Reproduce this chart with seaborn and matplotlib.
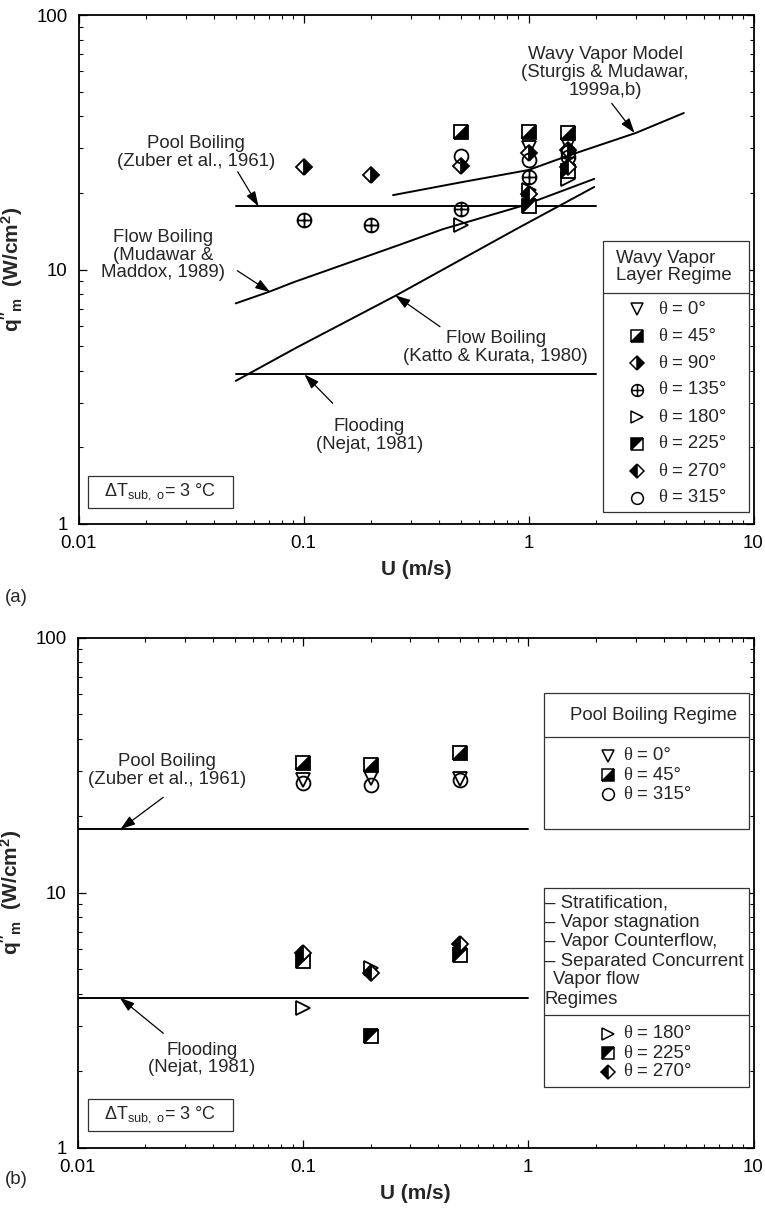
import matplotlib
matplotlib.use("Agg")
import numpy as np
import matplotlib.pyplot as plt
import seaborn as sns
from matplotlib.markers import MarkerStyle
from matplotlib.path import Path
from matplotlib.transforms import Affine2D
from matplotlib.patches import Rectangle
from matplotlib.lines import Line2D
from matplotlib import ticker

sns.set_theme(style="ticks")
plt.rcParams["font.family"] = ["Liberation Sans", "DejaVu Sans"]
plt.rcParams["mathtext.fontset"] = "custom"
plt.rcParams["mathtext.rm"] = "Liberation Sans"
plt.rcParams["mathtext.it"] = "Liberation Sans:italic"
plt.rcParams["mathtext.bf"] = "Liberation Sans:bold"
plt.rcParams["mathtext.sf"] = "Liberation Sans"

# ---------------- data ----------------
x_ticks = [0.01, 0.1, 1, 10]
x_tick_labels = ["0.01", "0.1", "1", "10"]
y_ticks = [1, 10, 100]
y_tick_labels = ["1", "10", "100"]

# panel (a): wavy vapor layer regime
a_u_0 = [1.0, 1.5]
a_q_0 = [29.9, 30.9]
a_u_45 = [0.5, 1.0, 1.5]
a_q_45 = [34.7, 34.6, 34.4]
a_u_90 = [0.1, 0.2, 0.5, 1.0, 1.5]
a_q_90 = [25.2, 23.6, 25.5, 28.6, 29.6]
a_u_135 = [0.1, 0.2, 0.5, 1.0, 1.5]
a_q_135 = [15.6, 14.9, 17.3, 23.0, 27.6]
a_u_180 = [0.5, 1.0, 1.5]
a_q_180 = [15.0, 20.6, 22.6]
a_u_225 = [1.0, 1.5]
a_q_225 = [17.7, 24.3]
a_u_270 = [1.0, 1.5]
a_q_270 = [19.8, 25.2]
a_u_315 = [0.5, 1.0, 1.5]
a_q_315 = [28.0, 27.0, 28.9]

# correlations, panel (a)
a_pool_u = [0.05, 2.0]
a_pool_q = [17.7, 17.7]
a_flood_u = [0.05, 2.0]
a_flood_q = [3.87, 3.87]
mm_u = [0.05, 0.071, 0.09, 0.267, 0.416, 0.94, 1.96]
mm_q = [7.36, 8.2, 8.9, 12.5, 14.4, 17.8, 22.7]
kk_u = [0.05, 0.093, 0.258, 0.88, 1.96]
kk_q = [3.65, 4.93, 7.91, 14.4, 21.1]
wavy_u = [0.25, 0.5, 1.0, 1.5, 3.0, 4.9]
wavy_q = [19.6, 22.0, 24.6, 28.0, 34.4, 41.2]

# panel (b)
b_u_0 = [0.1, 0.2, 0.5]
b_q_0 = [27.7, 28.0, 27.9]
b_u_45 = [0.1, 0.2, 0.5]
b_q_45 = [32.1, 31.5, 35.1]
b_u_315 = [0.1, 0.2, 0.5]
b_q_315 = [27.0, 26.3, 27.5]
b_u_180 = [0.1, 0.2]
b_q_180 = [3.53, 5.07]
b_u_225 = [0.1, 0.2, 0.5]
b_q_225 = [5.41, 2.73, 5.71]
b_u_270 = [0.1, 0.2, 0.5]
b_q_270 = [5.81, 4.84, 6.29]
b_pool_u = [0.01, 1.0]
b_pool_q = [17.7, 17.7]
b_flood_u = [0.01, 1.0]
b_flood_q = [3.87, 3.87]

# ---------------- styles ----------------
def half_square(fs):
    return MarkerStyle("D", fillstyle=fs, transform=Affine2D().rotate_deg(45))

circle_plus = Path.make_compound_path(
    Path.unit_circle(),
    Path([(-1, 0), (1, 0)], [Path.MOVETO, Path.LINETO]),
    Path([(0, -1), (0, 1)], [Path.MOVETO, Path.LINETO]),
)

STY = {
    0: dict(marker=MarkerStyle("v"), ms=10, mfc="none"),
    45: dict(marker=half_square("bottom"), ms=10.5, mfc="black"),
    90: dict(marker=MarkerStyle("D", fillstyle="right"), ms=8.5, mfc="black"),
    135: dict(marker=MarkerStyle(circle_plus), ms=10, mfc="none"),
    180: dict(marker=MarkerStyle(">"), ms=10, mfc="none"),
    225: dict(marker=half_square("top"), ms=10.5, mfc="black"),
    270: dict(marker=MarkerStyle("D", fillstyle="left"), ms=8.5, mfc="black"),
    315: dict(marker=MarkerStyle("o"), ms=10, mfc="none"),
}

W, H = 765, 1210
fig = plt.figure(figsize=(W / 100, H / 100), dpi=100)
fig.patch.set_facecolor("white")


def fx(x):
    return x / W


def fy(y):
    return 1 - y / H


ax_a = fig.add_axes([fx(78.5), fy(524), (753.5 - 78.5) / W, 509 / H])
ax_b = fig.add_axes([fx(77.5), fy(1147.5), (753.5 - 77.5) / W, 510 / H])

for ax in (ax_a, ax_b):
    ax.set_xscale("log")
    ax.set_yscale("log")


def draw_points(ax, u, q, theta):
    s = STY[theta]
    sns.lineplot(x=u, y=q, ax=ax, estimator=None, sort=False, color="black",
                 linestyle="none", marker=s["marker"], markersize=s["ms"],
                 markerfacecolor=s["mfc"], markerfacecoloralt="white",
                 markeredgecolor="black", markeredgewidth=1.3, zorder=4,
                 legend=False)


def draw_curve(ax, u, q):
    sns.lineplot(x=u, y=q, ax=ax, estimator=None, sort=False, color="black",
                 linewidth=1.4, legend=False, zorder=2)


# panel (a)
for u, q in [(a_pool_u, a_pool_q), (a_flood_u, a_flood_q), (mm_u, mm_q),
             (kk_u, kk_q), (wavy_u, wavy_q)]:
    draw_curve(ax_a, u, q)
for th, u, q in [(0, a_u_0, a_q_0), (45, a_u_45, a_q_45), (90, a_u_90, a_q_90),
                 (135, a_u_135, a_q_135), (180, a_u_180, a_q_180),
                 (225, a_u_225, a_q_225), (270, a_u_270, a_q_270),
                 (315, a_u_315, a_q_315)]:
    draw_points(ax_a, u, q, th)

# panel (b)
for u, q in [(b_pool_u, b_pool_q), (b_flood_u, b_flood_q)]:
    draw_curve(ax_b, u, q)
for th, u, q in [(0, b_u_0, b_q_0), (45, b_u_45, b_q_45), (315, b_u_315, b_q_315),
                 (180, b_u_180, b_q_180), (225, b_u_225, b_q_225),
                 (270, b_u_270, b_q_270)]:
    draw_points(ax_b, u, q, th)

ylab = r"$\mathbf{q''_m}$  $\mathbf{(W/cm^2)}$"
for ax in (ax_a, ax_b):
    ax.set_xlim(0.01, 10)
    ax.set_ylim(1, 100)
    ax.xaxis.set_major_locator(ticker.FixedLocator(x_ticks))
    ax.xaxis.set_major_formatter(ticker.FixedFormatter(x_tick_labels))
    ax.yaxis.set_major_locator(ticker.FixedLocator(y_ticks))
    ax.yaxis.set_major_formatter(ticker.FixedFormatter(y_tick_labels))
    ax.xaxis.set_minor_locator(ticker.LogLocator(base=10, subs=np.arange(2, 10), numticks=20))
    ax.yaxis.set_minor_locator(ticker.LogLocator(base=10, subs=np.arange(2, 10), numticks=20))
    ax.xaxis.set_minor_formatter(ticker.NullFormatter())
    ax.yaxis.set_minor_formatter(ticker.NullFormatter())
    ax.tick_params(which="both", direction="in", top=True, right=True,
                   colors="black", labelsize=13.4, pad=8)
    ax.tick_params(which="major", length=6, width=0.9)
    ax.tick_params(which="minor", length=3, width=0.8)
    for sp in ax.spines.values():
        sp.set_linewidth(1.3)
        sp.set_color("black")
    ax.grid(False)
    ax.set_facecolor("white")
    ax.set_xlabel("U (m/s)", fontsize=15, fontweight="bold", labelpad=6)
    ax.set_ylabel(ylab, fontsize=15, labelpad=8)

# ---------------- annotations ----------------
AP = dict(arrowstyle="-|>,head_length=0.45,head_width=0.15", color="black",
          lw=0.9, shrinkA=0, shrinkB=0, mutation_scale=20)


def arrow(ax, tip, start_px):
    ax.annotate("", xy=tip, xycoords="data",
                xytext=(start_px[0], H - start_px[1]), textcoords="figure pixels",
                arrowprops=AP, annotation_clip=False, zorder=3)


def label(x, y, s, **kw):
    fig.text(fx(x), fy(y), s, ha="center", va="center", fontsize=13.4,
             linespacing=1.05, zorder=7, **kw)


label(195.7, 152.5, "Pool Boiling\n(Zuber et al., 1961)")
arrow(ax_a, (0.0631, 17.7), (237.7, 171.7))
label(163.3, 255, "Flow Boiling\n(Mudawar &\nMaddox, 1989)")
arrow(ax_a, (0.0711, 8.15), (237.3, 270.7))
label(495.7, 347.5, "Flow Boiling\n(Katto & Kurata, 1980)")
arrow(ax_a, (0.256, 7.91), (440, 326.7))
label(369.3, 435.5, "Flooding\n(Nejat, 1981)")
arrow(ax_a, (0.101, 3.87), (332.7, 403.3))
label(605, 72.5, "Wavy Vapor Model\n(Sturgis & Mudawar,\n1999a,b)")
arrow(ax_a, (2.96, 34.4), (611.7, 103.3))

label(167.3, 770.5, "Pool Boiling\n(Zuber et al., 1961)")
arrow(ax_b, (0.0155, 17.7), (163.3, 797.3))
label(201.7, 1059, "Flooding\n(Nejat, 1981)")
arrow(ax_b, (0.0154, 3.87), (163.3, 1033.3))

fig.text(fx(5), fy(598), "(a)", ha="left", va="center", fontsize=13.4)
fig.text(fx(5), fy(1180), "(b)", ha="left", va="center", fontsize=13.4)

# ---------------- legend boxes ----------------
EC = "#333333"


def box(x0, y0, x1, y1):
    fig.add_artist(Rectangle((fx(x0), fy(y1)), (x1 - x0) / W, (y1 - y0) / H,
                             transform=fig.transFigure, facecolor="white",
                             edgecolor=EC, linewidth=0.9, zorder=5))


def hline(x0, x1, y):
    fig.add_artist(Line2D([fx(x0), fx(x1)], [fy(y), fy(y)],
                          transform=fig.transFigure, color=EC, lw=0.9, zorder=6))


def legend_row(theta, xm, y, xt, scale=0.85):
    s = STY[theta]
    fig.add_artist(Line2D([fx(xm)], [fy(y)], transform=fig.transFigure,
                          linestyle="none", marker=s["marker"],
                          markersize=s["ms"] * scale, markerfacecolor=s["mfc"],
                          markerfacecoloralt="white", markeredgecolor="black",
                          markeredgewidth=1.1, zorder=7))
    fig.text(fx(xt), fy(y), "θ", family=["Liberation Serif", "DejaVu Serif"],
             fontsize=13.4, ha="left", va="center", zorder=7)
    fig.text(fx(xt + 14), fy(y), f"= {theta}°", fontsize=13.4,
             ha="left", va="center", zorder=7)


# panel (a) legend
box(602.5, 240.7, 749, 512.3)
hline(602.5, 749, 292.7)
fig.text(fx(616), fy(267), "Wavy Vapor\nLayer Regime", ha="left", va="center",
         fontsize=13.4, linespacing=1.0, zorder=7)
for i, th in enumerate([0, 45, 90, 135, 180, 225, 270, 315]):
    legend_row(th, 636.7, 309 + 27 * i, 658.3)

# panel (b) legends
box(543.5, 693, 749, 829)
hline(543.5, 749, 737)
fig.text(fx(570), fy(716), "Pool Boiling Regime", ha="left", va="center",
         fontsize=13.4, zorder=7)
for y, th in zip([755.7, 775, 794.3], [0, 45, 315]):
    legend_row(th, 608.3, y, 623.3)

box(543.5, 887.5, 749, 1087)
hline(543.5, 749, 1015)
for y, s, x in [(903, "– Stratification,", 545), (922.5, "– Vapor stagnation", 545),
                (942, "– Vapor Counterflow,", 545), (961, "– Separated Concurrent", 545),
                (980, "Vapor flow", 553), (999.5, "Regimes", 545)]:
    fig.text(fx(x), fy(y), s, ha="left", va="center", fontsize=13.4, zorder=7)
for y, th in zip([1034, 1053, 1072], [180, 225, 270]):
    legend_row(th, 608.3, y, 623.3)

# delta T boxes
dT = r"$\Delta$T$_{\mathrm{sub,\ o}}$= 3 °C"
for y0 in (476, 1099):
    box(88, y0, 233, y0 + 32)
    fig.text(fx(160.5), fy(y0 + 16), dT, ha="center", va="center",
             fontsize=13, zorder=7)

fig.savefig("out.png", dpi=100, facecolor="white")
